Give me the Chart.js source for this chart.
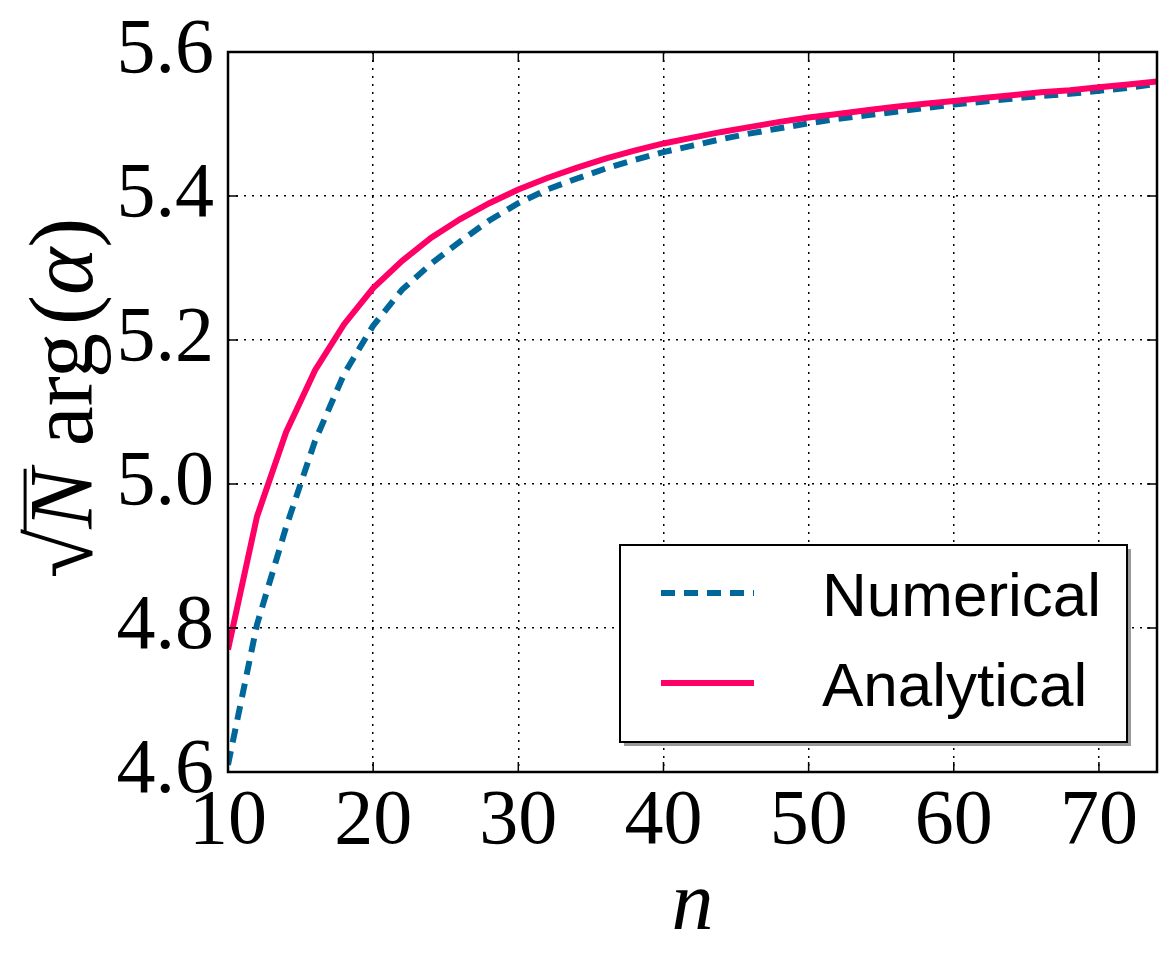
<!DOCTYPE html>
<html>
<head>
<meta charset="utf-8">
<script src="https://cdn.jsdelivr.net/npm/chart.js@4.4.1/dist/chart.umd.min.js"></script>
<style>
  html, body { margin: 0; padding: 0; background: #fff; }
  #wrap { width: 1172px; height: 961px; }
</style>
</head>
<body>
<div id="wrap"><canvas id="argChart" width="1172" height="961"></canvas></div>
<script>
//////////////////////// Data ////////////////////////
const nValues = [10, 12, 14, 16, 18, 20, 22, 24, 26, 28, 30, 32, 34, 36, 38, 40, 42,
                 44, 46, 48, 50, 52, 54, 56, 58, 60, 62, 64, 66, 68, 70, 72, 74];
const numerical = [4.610, 4.805, 4.940, 5.060, 5.153, 5.220, 5.270, 5.306, 5.337, 5.366, 5.390,
                   5.409, 5.424, 5.438, 5.450, 5.461, 5.470, 5.479, 5.487, 5.494, 5.501, 5.507,
                   5.512, 5.517, 5.522, 5.527, 5.531, 5.535, 5.539, 5.542, 5.546, 5.550, 5.556];
const analytical = [4.770, 4.955, 5.072, 5.158, 5.222, 5.272, 5.310, 5.342, 5.368, 5.390, 5.409,
                    5.425, 5.439, 5.452, 5.463, 5.473, 5.481, 5.489, 5.496, 5.503, 5.509, 5.514,
                    5.519, 5.524, 5.528, 5.532, 5.536, 5.540, 5.544, 5.547, 5.551, 5.555, 5.559];
const seriesLabels = ['Numerical', 'Analytical'];
const xTicks = [10, 20, 30, 40, 50, 60, 70];
const yTicks = [4.6, 4.8, 5.0, 5.2, 5.4, 5.6];

const blue = '#00679a';
const pink = '#ff0066';
const serif = '"Liberation Serif", "DejaVu Serif", serif';
const sans = '"Liberation Sans", Arial, sans-serif';

// frame around the plot plus inward tick marks, like matplotlib classic
const framePlugin = {
    id: 'frame',
    afterDatasetsDraw(chart) {
        const { ctx, chartArea: a, scales } = chart;
        ctx.save();
        ctx.strokeStyle = '#000';
        ctx.lineWidth = 1.5;
        ctx.beginPath();
        xTicks.forEach(v => {
            const x = scales.x.getPixelForValue(v);
            ctx.moveTo(x, a.bottom); ctx.lineTo(x, a.bottom - 10);
            ctx.moveTo(x, a.top); ctx.lineTo(x, a.top + 10);
        });
        yTicks.forEach(v => {
            const y = scales.y.getPixelForValue(v);
            ctx.moveTo(a.left, y); ctx.lineTo(a.left + 10, y);
            ctx.moveTo(a.right, y); ctx.lineTo(a.right - 10, y);
        });
        ctx.stroke();
        ctx.lineWidth = 2.5;
        ctx.strokeRect(a.left, a.top, a.right - a.left, a.bottom - a.top);
        ctx.restore();
    }
};

// legend box in the lower right, with a drop shadow
const legendPlugin = {
    id: 'boxLegend',
    afterDraw(chart) {
        const { ctx } = chart;
        const box = { x: 620, y: 545, w: 507, h: 197 };
        ctx.save();
        ctx.fillStyle = '#999';
        ctx.fillRect(box.x + 4, box.y + 4, box.w, box.h);
        ctx.fillStyle = '#fff';
        ctx.fillRect(box.x, box.y, box.w, box.h);
        ctx.strokeStyle = '#000';
        ctx.lineWidth = 2;
        ctx.strokeRect(box.x, box.y, box.w, box.h);

        const rows = [593, 683];
        chart.data.datasets.forEach((ds, i) => {
            const y = rows[i];
            ctx.strokeStyle = ds.borderColor;
            ctx.lineWidth = ds.borderWidth;
            ctx.setLineDash(ds.borderDash || []);
            ctx.beginPath();
            ctx.moveTo(661, y);
            ctx.lineTo(754, y);
            ctx.stroke();
            ctx.setLineDash([]);
            ctx.fillStyle = '#000';
            ctx.font = '62px ' + sans;
            ctx.textBaseline = 'alphabetic';
            ctx.textAlign = 'left';
            ctx.fillText(ds.label, 822, y + 23);
        });
        ctx.restore();
    }
};

// y axis title: sqrt(N) arg(alpha), mixed upright and italic pieces
const yTitlePlugin = {
    id: 'yTitle',
    afterDraw(chart) {
        const { ctx } = chart;
        const size = 90;
        const pieces = [
            { t: '\u221A', f: size + 'px ' + serif },
            { t: 'N', f: 'italic ' + size + 'px ' + serif, over: true },
            { t: ' arg', f: size + 'px ' + serif, gap: 8 },
            { t: '(', f: size + 'px ' + serif },
            { t: '\u03B1', f: 'italic ' + size + 'px ' + serif },
            { t: ')', f: size + 'px ' + serif }
        ];
        let total = 0;
        pieces.forEach(p => {
            ctx.font = p.f;
            p.w = ctx.measureText(p.t).width + (p.gap || 0);
            total += p.w;
        });
        ctx.save();
        ctx.translate(62, 398);
        ctx.rotate(-Math.PI / 2);
        ctx.fillStyle = '#000';
        ctx.textBaseline = 'alphabetic';
        ctx.textAlign = 'left';
        let x = -total / 2;
        const base = 30;
        pieces.forEach(p => {
            ctx.font = p.f;
            ctx.fillText(p.t, x, base);
            if (p.over) {
                ctx.fillRect(x - 4, base - size * 0.76, p.w + 4, 3);
            }
            x += p.w;
        });
        ctx.restore();
    }
};

document.addEventListener('DOMContentLoaded', () => {
    const data = {
        datasets: [{
            label: seriesLabels[0],
            data: nValues.map((n, i) => ({ x: n, y: numerical[i] })),
            borderColor: blue,
            borderWidth: 6,
            borderDash: [14, 9],
            pointRadius: 0,
            tension: 0,
            order: 1
        }, {
            label: seriesLabels[1],
            data: nValues.map((n, i) => ({ x: n, y: analytical[i] })),
            borderColor: pink,
            borderWidth: 6,
            pointRadius: 0,
            tension: 0,
            order: 0
        }]
    };

    const config = {
        type: 'line',
        data: data,
        options: {
            responsive: false,
            animation: false,
            layout: { padding: { top: 52, right: 15, left: 0, bottom: 0 } },
            plugins: {
                legend: { display: false },
                tooltip: { enabled: false }
            },
            scales: {
                x: {
                    type: 'linear',
                    min: 10,
                    max: 74,
                    afterBuildTicks: (scale) => { scale.ticks = xTicks.map(v => ({ value: v })); },
                    afterFit: (scale) => { scale.height = 189; },
                    ticks: {
                        font: { family: serif, size: 78 },
                        color: '#000',
                        padding: 4,
                        maxRotation: 0
                    },
                    grid: { color: '#000', lineWidth: 1.5, drawTicks: false },
                    border: { display: false, dash: [2, 6] },
                    title: {
                        display: true,
                        text: 'n',
                        font: { family: serif, size: 84, style: 'italic' },
                        color: '#000',
                        padding: { top: 0 }
                    }
                },
                y: {
                    min: 4.6,
                    max: 5.6,
                    afterBuildTicks: (scale) => { scale.ticks = yTicks.map(v => ({ value: v })); },
                    afterFit: (scale) => { scale.width = 228; },
                    ticks: {
                        font: { family: serif, size: 78, lineHeight: 0.9 },
                        color: '#000',
                        padding: 14,
                        callback: (v) => Number(v).toFixed(1)
                    },
                    grid: { color: '#000', lineWidth: 1.5, drawTicks: false },
                    border: { display: false, dash: [2, 6] }
                }
            }
        },
        plugins: [framePlugin, legendPlugin, yTitlePlugin]
    };

    const ctx = document.getElementById('argChart').getContext('2d');
    new Chart(ctx, config);
});
</script>
</body>
</html>
